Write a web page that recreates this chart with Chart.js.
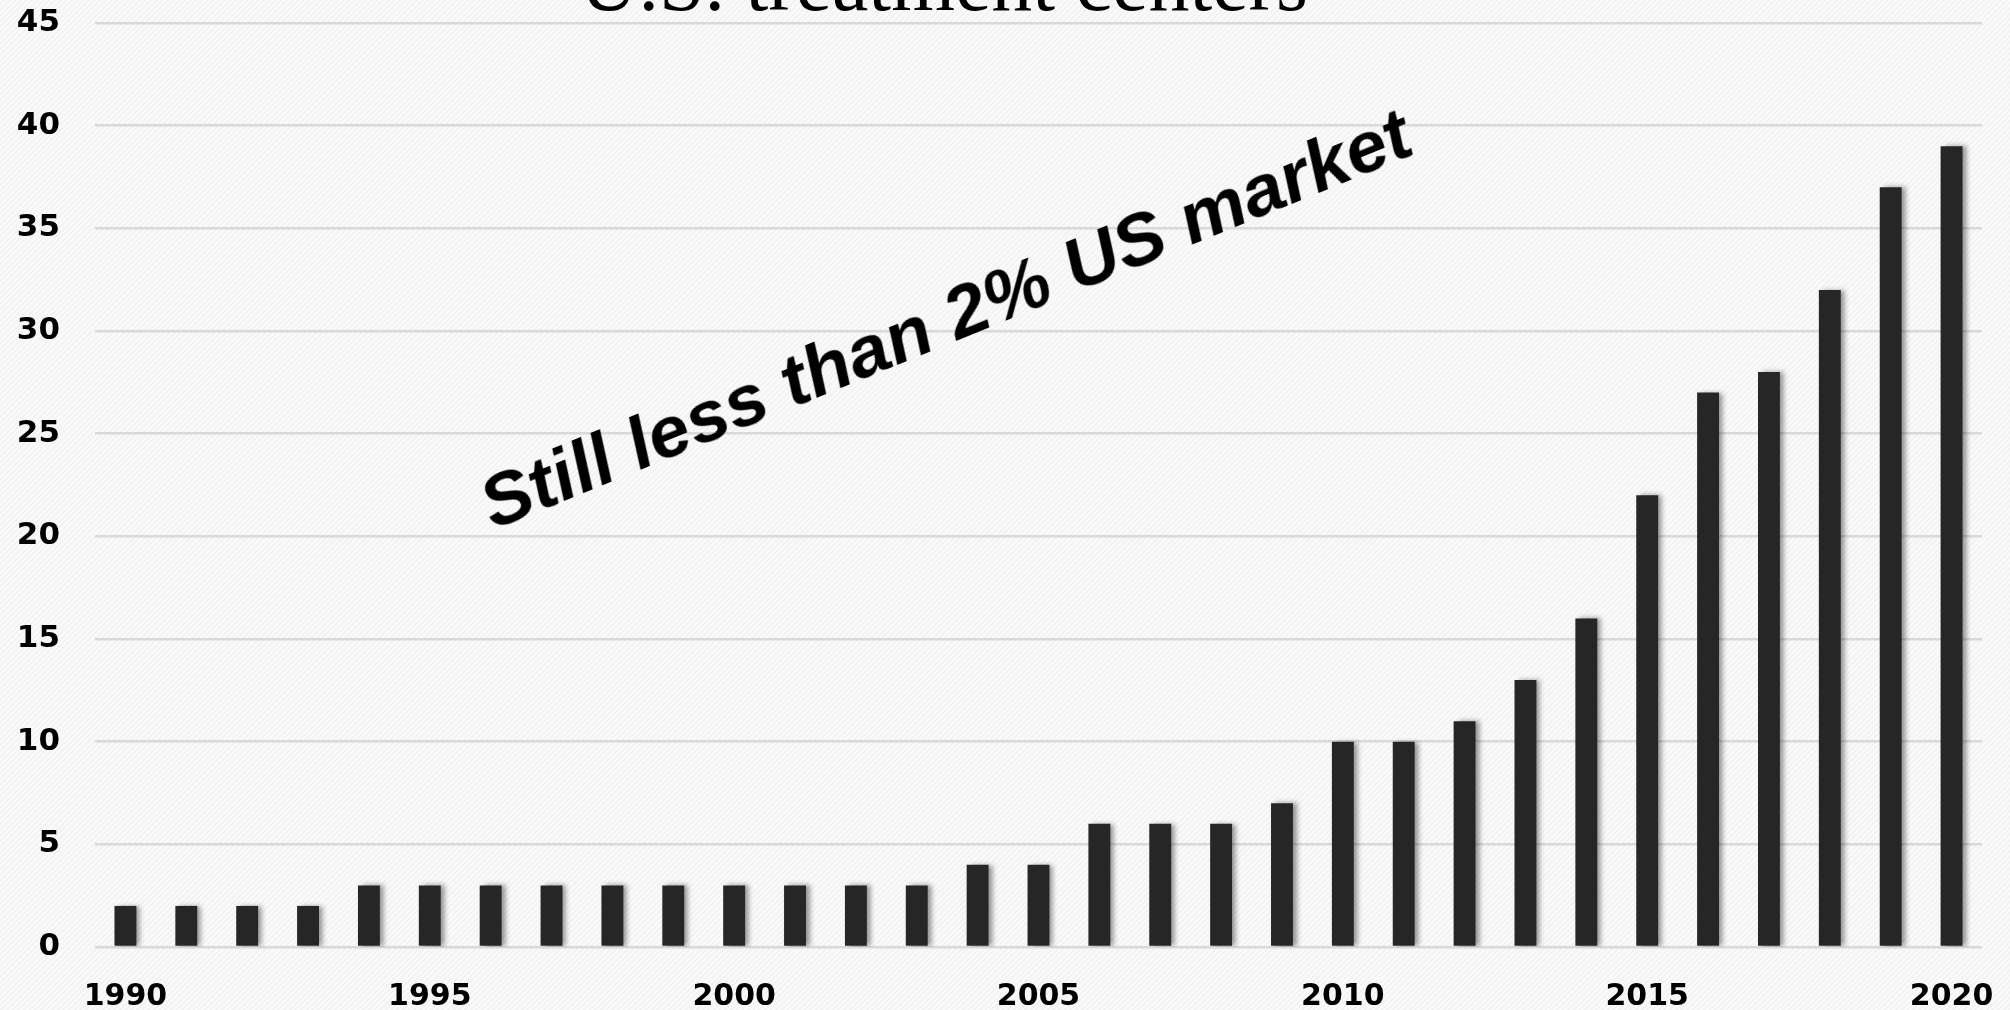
<!DOCTYPE html>
<html>
<head>
<meta charset="utf-8">
<script src="https://cdn.jsdelivr.net/npm/chart.js@4/dist/chart.umd.min.js"></script>
<style>
  html, body { margin: 0; padding: 0; }
  body {
    width: 2010px; height: 1010px; overflow: hidden; position: relative;
    background: repeating-linear-gradient(135deg, #fafafa 0px, #fafafa 2px, #f3f3f3 2px, #f3f3f3 4px);
  }
  #wrap { position: absolute; left: 0; top: 0; width: 2010px; height: 1010px; }
  #title {
    position: absolute; left: 0; width: 1887px; top: -58px;
    font-family: "Liberation Serif", "Times New Roman", serif; font-size: 82px; line-height: 1;
    color: #000; text-align: center; white-space: nowrap;
  }
  #note {
    position: absolute; left: 494px; top: 469px;
    font-family: "Liberation Sans", Arial, sans-serif; font-weight: bold; font-style: italic;
    font-size: 72px; line-height: 1; color: #000; white-space: nowrap;
    transform-origin: 0px 61px;
    transform: scaleX(1.04) rotate(-23deg);
  }
</style>
</head>
<body>
<div id="wrap"><canvas id="c" width="2010" height="1010"></canvas></div>
<div id="title">U.S. treatment centers</div>
<div id="note">Still less than 2% US market</div>
<script>
const years = ['1990','1991','1992','1993','1994','1995','1996','1997','1998','1999','2000',
  '2001','2002','2003','2004','2005','2006','2007','2008','2009','2010',
  '2011','2012','2013','2014','2015','2016','2017','2018','2019','2020'];
const centers = [2,2,2,2,3,3,3,3,3,3,3,3,3,3,4,4,6,6,6,7,10,10,11,13,16,22,27,28,32,37,39];
const shownYearLabels = ['1990','1995','2000','2005','2010','2015','2020'];
const yMin = 0, yMax = 45, yStep = 5;

const shadowPlugin = {
  id: 'barShadow',
  beforeDatasetsDraw(chart) {
    const ctx = chart.ctx;
    ctx.save();
    ctx.shadowColor = 'rgba(0,0,0,0.4)';
    ctx.shadowBlur = 5;
    ctx.shadowOffsetX = 4;
    ctx.shadowOffsetY = 0;
  },
  afterDatasetsDraw(chart) {
    chart.ctx.restore();
  }
};

new Chart(document.getElementById('c'), {
  type: 'bar',
  data: {
    labels: years,
    datasets: [{
      data: centers,
      backgroundColor: '#262626',
      borderWidth: 0,
      barPercentage: 0.36,
      categoryPercentage: 1.0
    }]
  },
  options: {
    responsive: false,
    animation: false,
    devicePixelRatio: 1,
    layout: { padding: { left: 0, right: 28, top: 23, bottom: 0 } },
    plugins: { legend: { display: false }, tooltip: { enabled: false }, title: { display: false } },
    scales: {
      x: {
        offset: true,
        grid: { display: false, drawTicks: false },
        border: { display: false },
        ticks: {
          autoSkip: false, maxRotation: 0, minRotation: 0, padding: 32,
          color: '#000',
          font: { family: '"DejaVu Sans", sans-serif', weight: 'bold', size: 30 },
          callback: function(v, i) {
            const lab = this.getLabelForValue(v);
            return shownYearLabels.includes(lab) ? lab : '';
          }
        },
        afterFit(scale) { scale.height = 63; scale.paddingLeft = 0; scale.paddingRight = 0; }
      },
      y: {
        min: yMin, max: yMax,
        grid: { color: '#d9d9d9', lineWidth: 2.5, drawTicks: false },
        border: { display: false },
        ticks: {
          stepSize: yStep, padding: 35, color: '#000',
          font: { family: '"DejaVu Sans", sans-serif', weight: 'bold', size: 31 }
        },
        afterFit(scale) { scale.width = 95; scale.paddingTop = 0; scale.paddingBottom = 0; }
      }
    }
  },
  plugins: [shadowPlugin]
});
</script>
</body>
</html>
